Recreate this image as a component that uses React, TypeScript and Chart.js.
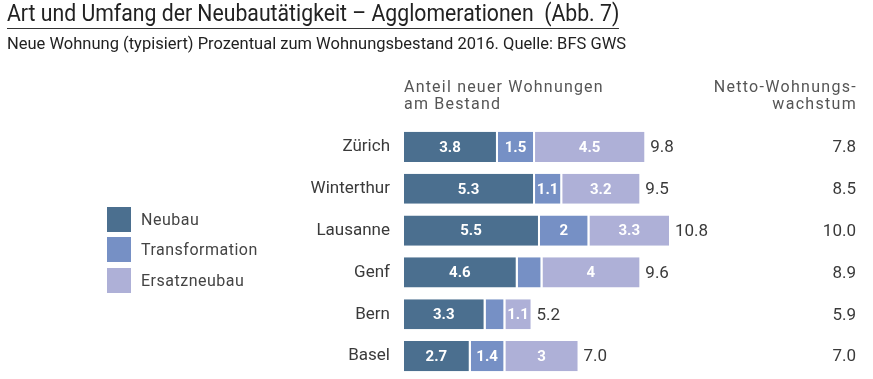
import React, { useEffect, useRef } from "react";
import { Chart, registerables } from "chart.js";

Chart.register(...registerables);

const cities = ["Zürich", "Winterthur", "Lausanne", "Genf", "Bern", "Basel"];
const neubau = [3.8, 5.3, 5.5, 4.6, 3.3, 2.7];
const transformation = [1.5, 1.1, 2.0, 1.0, 0.8, 1.4];
const ersatzneubau = [4.5, 3.2, 3.3, 4.0, 1.1, 3.0];
const totals = ["9.8", "9.5", "10.8", "9.6", "5.2", "7.0"];
const netto = ["7.8", "8.5", "10.0", "8.9", "5.9", "7.0"];
const seriesNames = ["Neubau", "Transformation", "Ersatzneubau"];
const colors = ["#4b6f8f", "#7690c5", "#aeb0d7"];

const FONT = "'Roboto', sans-serif";

const labelPlugin = {
  id: "labels",
  afterDatasetsDraw(chart: any) {
    const ctx = chart.ctx;
    ctx.save();
    const n = chart.data.labels.length;
    const metas = chart.data.datasets.map((_: any, i: number) => chart.getDatasetMeta(i));
    metas.forEach((meta: any, di: number) => {
      meta.data.forEach((el: any, j: number) => {
        const v = chart.data.datasets[di].data[j];
        if (v < 1.05) return;
        const left = Math.min(el.x, el.base);
        const right = Math.max(el.x, el.base) - 2;
        ctx.fillStyle = "#ffffff";
        ctx.font = `bold 15px ${FONT}`;
        ctx.textAlign = "center";
        ctx.textBaseline = "middle";
        ctx.fillText(String(v), (left + right) / 2, el.y + 1);
      });
    });
    const last = metas[metas.length - 1];
    for (let j = 0; j < n; j++) {
      const el = last.data[j];
      ctx.fillStyle = "#3a3a3a";
      ctx.font = `17px ${FONT}`;
      ctx.textAlign = "left";
      ctx.textBaseline = "middle";
      ctx.fillText(totals[j], el.x + 4, el.y + 1);
      ctx.textAlign = "right";
      ctx.fillText(netto[j], 856, el.y + 1);
    }
    ctx.restore();
  },
};

export default function App() {
  const ref = useRef<HTMLCanvasElement>(null);
  useEffect(() => {
    const chart = new Chart(ref.current!, {
      type: "bar",
      data: {
        labels: cities,
        datasets: [neubau, transformation, ersatzneubau].map((d, i) => ({
          label: seriesNames[i],
          data: d,
          backgroundColor: colors[i],
          borderColor: "#ffffff",
          borderWidth: { top: 0, bottom: 0, left: 0, right: 2 },
          borderSkipped: false,
          categoryPercentage: 0.72,
          barPercentage: 1,
        })),
      },
      options: {
        indexAxis: "y",
        animation: false,
        responsive: false,
        events: [],
        layout: { padding: { top: 126, bottom: 2, left: 0, right: 24 } },
        plugins: { legend: { display: false }, tooltip: { enabled: false } },
        scales: {
          x: { stacked: true, display: false, min: 0, max: 18 },
          y: {
            stacked: true,
            grid: { display: false, drawTicks: false },
            border: { display: false },
            ticks: {
              color: "#3a3a3a",
              padding: 14,
              font: { size: 17, family: FONT },
            },
            afterFit(scale: any) {
              scale.width = 404;
              scale.paddingTop = 0;
              scale.paddingBottom = 0;
            },
          },
        },
      },
      plugins: [labelPlugin],
    } as any);
    return () => chart.destroy();
  }, []);

  const legendItem = (i: number, top: number) => (
    <div key={i} style={{ position: "absolute", left: 107, top, height: 25, display: "flex", alignItems: "center" }}>
      <div style={{ width: 24, height: 25, background: colors[i] }} />
      <div style={{ marginLeft: 10, fontSize: 16, color: "#444", letterSpacing: 0.5 }}>{seriesNames[i]}</div>
    </div>
  );

  return (
    <div style={{ position: "absolute", left: 0, top: 0, width: 873, height: 379, background: "#fff", fontFamily: FONT, overflow: "hidden" }}>
      <canvas ref={ref} width={873} height={379} style={{ position: "absolute", left: 0, top: 0 }} />
      <div style={{ position: "absolute", left: 7, top: 0, fontSize: 23, lineHeight: "27px", color: "#222", borderBottom: "1px solid #333", paddingBottom: 1, whiteSpace: "pre", transform: "scaleX(0.923)", transformOrigin: "0 0" }}>
        {"Art und Umfang der Neubautätigkeit – Agglomerationen  (Abb. 7)"}
      </div>
      <div style={{ position: "absolute", left: 7, top: 35, fontSize: 16.5, lineHeight: "18px", color: "#222", whiteSpace: "pre" }}>
        Neue Wohnung (typisiert) Prozentual zum Wohnungsbestand 2016. Quelle: BFS GWS
      </div>
      <div style={{ position: "absolute", left: 404, top: 78, fontSize: 16, lineHeight: "17px", color: "#555", letterSpacing: 1.2 }}>
        Anteil neuer Wohnungen<br />am Bestand
      </div>
      <div style={{ position: "absolute", right: 873 - 857, top: 78, fontSize: 16, lineHeight: "17px", color: "#555", letterSpacing: 1.3, textAlign: "right" }}>
        Netto-Wohnungs-<br />wachstum
      </div>
      {legendItem(0, 207)}
      {legendItem(1, 237)}
      {legendItem(2, 268)}
    </div>
  );
}
